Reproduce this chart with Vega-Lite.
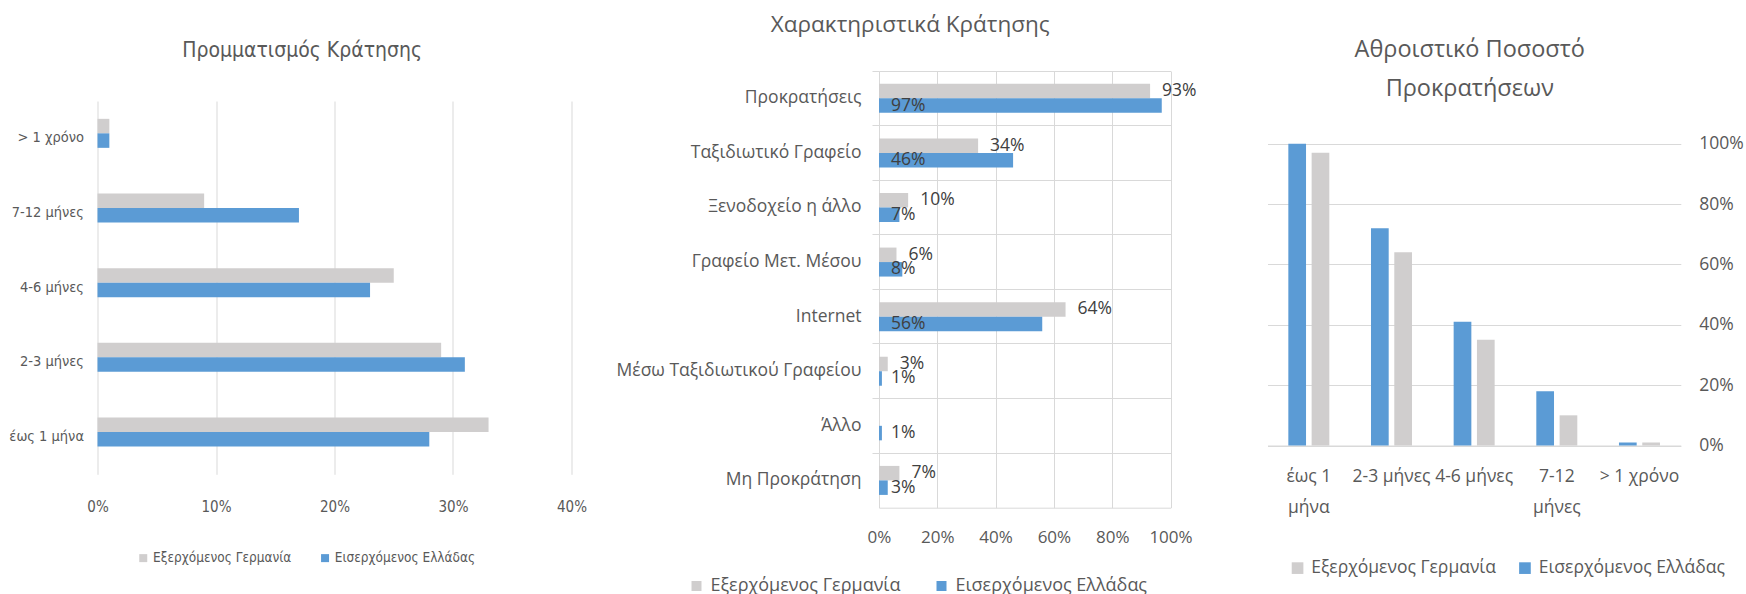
{
  "$schema": "https://vega.github.io/schema/vega-lite/v6.json",
  "background": "white",
  "padding": {"left": 8.5, "top": 13, "right": 2, "bottom": 0},
  "config": {
    "view": {"stroke": null},
    "axis": {"labelColor": "#595959", "gridColor": "#D9D9D9", "domainColor": "#D9D9D9", "tickColor": "#D9D9D9", "labelFont": "Open Sans", "labelFlush": false},
    "legend": {"labelColor": "#595959", "labelLimit": 400},
    "title": {"color": "#595959", "fontWeight": "normal", "font": "Open Sans"}
  },
  "bounds": "flush",
  "spacing": 96.5,
  "resolve": {"scale": {"color": "independent"}, "legend": {"color": "independent"}},
  "datasets": {
    "p1": [
      {"cat": "έως 1 μήνα", "series": "Εξερχόμενος Γερμανία", "value": 0.33},
      {"cat": "έως 1 μήνα", "series": "Εισερχόμενος Ελλάδας", "value": 0.28},
      {"cat": "2-3 μήνες", "series": "Εξερχόμενος Γερμανία", "value": 0.29},
      {"cat": "2-3 μήνες", "series": "Εισερχόμενος Ελλάδας", "value": 0.31},
      {"cat": "4-6 μήνες", "series": "Εξερχόμενος Γερμανία", "value": 0.25},
      {"cat": "4-6 μήνες", "series": "Εισερχόμενος Ελλάδας", "value": 0.23},
      {"cat": "7-12 μήνες", "series": "Εξερχόμενος Γερμανία", "value": 0.09},
      {"cat": "7-12 μήνες", "series": "Εισερχόμενος Ελλάδας", "value": 0.17},
      {"cat": "> 1 χρόνο", "series": "Εξερχόμενος Γερμανία", "value": 0.01},
      {"cat": "> 1 χρόνο", "series": "Εισερχόμενος Ελλάδας", "value": 0.01}
    ],
    "p2": [
      {"cat": "Προκρατήσεις", "series": "Εξερχόμενος Γερμανία", "value": 0.93},
      {"cat": "Προκρατήσεις", "series": "Εισερχόμενος Ελλάδας", "value": 0.97},
      {"cat": "Ταξιδιωτικό Γραφείο", "series": "Εξερχόμενος Γερμανία", "value": 0.34},
      {"cat": "Ταξιδιωτικό Γραφείο", "series": "Εισερχόμενος Ελλάδας", "value": 0.46},
      {"cat": "Ξενοδοχείο η άλλο", "series": "Εξερχόμενος Γερμανία", "value": 0.10},
      {"cat": "Ξενοδοχείο η άλλο", "series": "Εισερχόμενος Ελλάδας", "value": 0.07},
      {"cat": "Γραφείο Μετ. Μέσου", "series": "Εξερχόμενος Γερμανία", "value": 0.06},
      {"cat": "Γραφείο Μετ. Μέσου", "series": "Εισερχόμενος Ελλάδας", "value": 0.08},
      {"cat": "Internet", "series": "Εξερχόμενος Γερμανία", "value": 0.64},
      {"cat": "Internet", "series": "Εισερχόμενος Ελλάδας", "value": 0.56},
      {"cat": "Μέσω Ταξιδιωτικού Γραφείου", "series": "Εξερχόμενος Γερμανία", "value": 0.03},
      {"cat": "Μέσω Ταξιδιωτικού Γραφείου", "series": "Εισερχόμενος Ελλάδας", "value": 0.01},
      {"cat": "Άλλο", "series": "Εξερχόμενος Γερμανία", "value": 0},
      {"cat": "Άλλο", "series": "Εισερχόμενος Ελλάδας", "value": 0.01},
      {"cat": "Μη Προκράτηση", "series": "Εξερχόμενος Γερμανία", "value": 0.07},
      {"cat": "Μη Προκράτηση", "series": "Εισερχόμενος Ελλάδας", "value": 0.03}
    ],
    "p3": [
      {"cat": "έως 1 μήνα", "series": "Εισερχόμενος Ελλάδας", "value": 1.00},
      {"cat": "έως 1 μήνα", "series": "Εξερχόμενος Γερμανία", "value": 0.97},
      {"cat": "2-3 μήνες", "series": "Εισερχόμενος Ελλάδας", "value": 0.72},
      {"cat": "2-3 μήνες", "series": "Εξερχόμενος Γερμανία", "value": 0.64},
      {"cat": "4-6 μήνες", "series": "Εισερχόμενος Ελλάδας", "value": 0.41},
      {"cat": "4-6 μήνες", "series": "Εξερχόμενος Γερμανία", "value": 0.35},
      {"cat": "7-12 μήνες", "series": "Εισερχόμενος Ελλάδας", "value": 0.18},
      {"cat": "7-12 μήνες", "series": "Εξερχόμενος Γερμανία", "value": 0.10},
      {"cat": "> 1 χρόνο", "series": "Εισερχόμενος Ελλάδας", "value": 0.01},
      {"cat": "> 1 χρόνο", "series": "Εξερχόμενος Γερμανία", "value": 0.01}
    ]
  },
  "hconcat": [
    {
      "width": 684.9,
      "height": 403.3,
      "data": {"name": "p1"},
      "title": {"text": "Προμματισμός Κράτησης", "font": "Liberation Sans Narrow, DejaVu Sans Condensed, sans-serif", "fontSize": 21, "anchor": "middle", "dx": -137.8, "offset": 10},
      "mark": {"type": "bar"},
      "encoding": {
        "y": {"field": "cat", "type": "nominal", "sort": ["> 1 χρόνο", "7-12 μήνες", "4-6 μήνες", "2-3 μήνες", "έως 1 μήνα"],
          "scale": {"paddingInner": 0.478, "paddingOuter": 0.4395, "align": 0.7289},
          "axis": {"title": null, "domain": false, "ticks": false, "labelPadding": 14, "labelFont": "Liberation Sans Narrow, DejaVu Sans Condensed, sans-serif", "labelFontSize": 14.5}},
        "yOffset": {"field": "series", "sort": ["Εξερχόμενος Γερμανία", "Εισερχόμενος Ελλάδας"]},
        "x": {"field": "value", "type": "quantitative", "scale": {"domain": [0, 0.4], "range": [0, 474]},
          "axis": {"title": null, "values": [0, 0.1, 0.2, 0.3, 0.4], "format": ".0%", "domain": false, "ticks": false, "grid": true, "gridDash": [373.3, 60], "labelPadding": 24.7, "labelFont": "Liberation Sans Narrow, DejaVu Sans Condensed, sans-serif", "labelFontSize": 15}},
        "color": {"field": "series", "type": "nominal",
          "scale": {"domain": ["Εξερχόμενος Γερμανία", "Εισερχόμενος Ελλάδας"], "range": ["#D0CECE", "#5B9BD5"]},
          "legend": {"orient": "none", "legendX": 39, "legendY": 480, "direction": "horizontal", "title": null, "symbolType": "square", "symbolSize": 64, "symbolStrokeWidth": 0, "labelFont": "Liberation Sans Narrow, DejaVu Sans Condensed, sans-serif", "labelFontSize": 13.5, "columnPadding": 26.8, "labelOffset": 3}}
      }
    },
    {
      "width": 291.5,
      "height": 436.7,
      "data": {"name": "p2"},
      "title": {"text": "Χαρακτηριστικά Κράτησης", "fontSize": 22.5, "anchor": "middle", "dx": -114.5, "offset": 34.3},
      "encoding": {
        "y": {"field": "cat", "type": "nominal", "sort": ["Προκρατήσεις", "Ταξιδιωτικό Γραφείο", "Ξενοδοχείο η άλλο", "Γραφείο Μετ. Μέσου", "Internet", "Μέσω Ταξιδιωτικού Γραφείου", "Άλλο", "Μη Προκράτηση"],
          "scale": {"paddingInner": 0.469, "paddingOuter": 0.2345},
          "axis": {"title": null, "domain": false, "ticks": true, "tickSize": 7, "bandPosition": -0.4414, "grid": true, "labelPadding": 11, "labelFontSize": 17.5, "labelLimit": 300}},
        "yOffset": {"field": "series", "sort": ["Εξερχόμενος Γερμανία", "Εισερχόμενος Ελλάδας"], "scale": {"range": [0, 29]}},
        "x": {"field": "value", "type": "quantitative", "scale": {"domain": [0, 1]},
          "axis": {"title": null, "values": [0, 0.2, 0.4, 0.6, 0.8, 1], "format": ".0%", "domain": true, "ticks": false, "grid": true, "labelOverlap": false, "labelPadding": 21.3, "labelFontSize": 17}}
      },
      "layer": [
        {
          "mark": {"type": "bar"},
          "encoding": {
            "color": {"field": "series", "type": "nominal",
              "scale": {"domain": ["Εξερχόμενος Γερμανία", "Εισερχόμενος Ελλάδας"], "range": ["#D0CECE", "#5B9BD5"]},
              "legend": {"orient": "none", "legendX": -191.5, "legendY": 506, "direction": "horizontal", "title": null, "symbolType": "square", "symbolSize": 100, "symbolStrokeWidth": 0, "labelFont": "Open Sans", "labelFontSize": 18, "columnPadding": 32, "labelOffset": 5}}
          }
        },
        {
          "transform": [{"filter": "datum.series == 'Εξερχόμενος Γερμανία' && datum.value > 0"}],
          "mark": {"type": "text", "align": "left", "baseline": "middle", "dx": 12, "fontSize": 17.5, "font": "Open Sans", "color": "#404040"},
          "encoding": {"text": {"field": "value", "type": "quantitative", "format": ".0%"}}
        },
        {
          "transform": [{"filter": "datum.series == 'Εισερχόμενος Ελλάδας'"}],
          "mark": {"type": "text", "align": "left", "baseline": "middle", "dx": 12, "fontSize": 17.5, "font": "Open Sans", "color": "#404040"},
          "encoding": {"x": {"datum": 0}, "text": {"field": "value", "type": "quantitative", "format": ".0%"}}
        }
      ]
    },
    {
      "width": 413.3,
      "height": 374.5,
      "data": {"name": "p3"},
      "title": {"text": ["Αθροιστικό Ποσοστό", "Προκρατήσεων"], "fontSize": 23.5, "lineHeight": 38.3, "anchor": "middle", "dx": -4.4, "offset": -29.2},
      "mark": {"type": "bar"},
      "encoding": {
        "x": {"field": "cat", "type": "nominal", "sort": ["έως 1 μήνα", "2-3 μήνες", "4-6 μήνες", "7-12 μήνες", "> 1 χρόνο"],
          "scale": {"paddingInner": 0.504, "paddingOuter": 0.252},
          "axis": {"title": null, "labelAngle": 0, "ticks": false, "domain": true, "labelPadding": 22, "labelFontSize": 17.5, "labelLineHeight": 30.5, "labelOverlap": false, "labelBound": false,
            "labelExpr": "datum.label == 'έως 1 μήνα' ? ['έως 1', 'μήνα'] : datum.label == '7-12 μήνες' ? ['7-12', 'μήνες'] : datum.label"}},
        "xOffset": {"field": "series", "sort": ["Εισερχόμενος Ελλάδας", "Εξερχόμενος Γερμανία"], "scale": {"paddingInner": 0.24}},
        "y": {"field": "value", "type": "quantitative", "scale": {"domain": [0, 1], "range": [374.5, 72.7]},
          "axis": {"orient": "right", "title": null, "values": [0, 0.2, 0.4, 0.6, 0.8, 1], "format": ".0%", "domain": false, "ticks": false, "grid": true, "labelPadding": 18, "labelFontSize": 17.5}},
        "color": {"field": "series", "type": "nominal",
          "scale": {"domain": ["Εξερχόμενος Γερμανία", "Εισερχόμενος Ελλάδας"], "range": ["#D0CECE", "#5B9BD5"]},
          "legend": {"orient": "none", "legendX": 21.3, "legendY": 488, "direction": "horizontal", "title": null, "symbolType": "square", "symbolSize": 136, "symbolStrokeWidth": 0, "labelFont": "Open Sans", "labelFontSize": 17.5, "columnPadding": 19.4, "labelOffset": 5}}
      }
    }
  ]
}
